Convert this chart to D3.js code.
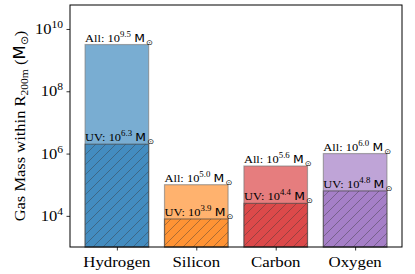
<!DOCTYPE html>
<meta charset="utf-8">
<head>
<script src="https://cdn.jsdelivr.net/npm/d3@7"></script>
<style>
  body { margin: 0; background: #fff; }
  .serif { font-family: "Liberation Serif", "Times New Roman", serif; }
  .sans { font-family: "DejaVu Sans", sans-serif; }
</style>
</head>
<body>
<script>

// data (log10 of mass)
var elements = ["Hydrogen", "Silicon", "Carbon", "Oxygen"];
var allMass = [9.5, 5.0, 5.6, 6.0];
var uvMass = [6.3, 3.9, 4.4, 4.8];
var colors = ["#1f77b4", "#ff7f0e", "#d62728", "#9467bd"];
var yTicks = [4, 6, 8, 10];

var width = 415, height = 274;
var pLeft = 70, pRight = 402, pTop = 5, pBottom = 247;
var stretch = 1.1; // text in the picture is a bit wide

var svg = d3.select("body").append("svg")
    .attr("width", width)
    .attr("height", height);

var x = d3.scaleLinear().domain([-0.59, 3.59]).range([pLeft, pRight]);
var y = d3.scaleLog().domain([1e3, Math.pow(10, 10.77)]).range([pBottom, pTop]);
var barW = 0.8;

function place(px, py) {
  return "translate(" + px + "," + py + ") scale(" + stretch + ",1)";
}

// hatch patterns
var defs = svg.append("defs");
colors.forEach(function(c, i) {
  var p = defs.append("pattern")
      .attr("id", "hatch" + i)
      .attr("patternUnits", "userSpaceOnUse")
      .attr("width", 10).attr("height", 10);
  p.append("path")
    .attr("d", "M-1,1 l2,-2 M0,10 l10,-10 M9,11 l2,-2")
    .attr("stroke", "#333")
    .attr("stroke-opacity", 0.45)
    .attr("stroke-width", 0.9);
});

var g = svg.append("g");

// all bars
g.selectAll(".all").data(elements).enter().append("rect")
  .attr("x", function(d, i) { return x(i - barW / 2); })
  .attr("width", x(barW) - x(0))
  .attr("y", function(d, i) { return y(Math.pow(10, allMass[i])); })
  .attr("height", function(d, i) { return pBottom - y(Math.pow(10, allMass[i])); })
  .attr("fill", function(d, i) { return colors[i]; })
  .attr("fill-opacity", 0.6)
  .attr("stroke", "#777")
  .attr("stroke-opacity", 0.6)
  .attr("stroke-width", 1.2);

// uv bars
g.selectAll(".uv").data(elements).enter().append("rect")
  .attr("x", function(d, i) { return x(i - barW / 2); })
  .attr("width", x(barW) - x(0))
  .attr("y", function(d, i) { return y(Math.pow(10, uvMass[i])); })
  .attr("height", function(d, i) { return pBottom - y(Math.pow(10, uvMass[i])); })
  .attr("fill", function(d, i) { return colors[i]; })
  .attr("fill-opacity", 0.6);

g.selectAll(".uvh").data(elements).enter().append("rect")
  .attr("x", function(d, i) { return x(i - barW / 2); })
  .attr("width", x(barW) - x(0))
  .attr("y", function(d, i) { return y(Math.pow(10, uvMass[i])); })
  .attr("height", function(d, i) { return pBottom - y(Math.pow(10, uvMass[i])); })
  .attr("fill", function(d, i) { return "url(#hatch" + i + ")"; })
  .attr("stroke", "#444")
  .attr("stroke-opacity", 0.6)
  .attr("stroke-width", 1.2);

// annotations
function label(prefix, v, i) {
  var t = svg.append("text")
    .attr("transform", place(x(i - barW / 2), y(Math.pow(10, v)) - 3))
    .attr("font-size", 11.3);
  t.append("tspan").attr("class", "serif").text(prefix + " 10");
  t.append("tspan").attr("class", "serif").attr("dy", -5).attr("font-size", 8).text(v.toFixed(1));
  t.append("tspan").attr("class", "sans").attr("dy", 5).attr("dx", 3).text("M");
  t.append("tspan").attr("class", "sans").attr("dy", 3).attr("dx", 1).attr("font-size", 7.5).text("\u2299");
}
elements.forEach(function(d, i) {
  label("All:", allMass[i], i);
  label("UV:", uvMass[i], i);
});

// axes
var yAxis = d3.axisLeft(y).tickValues(yTicks.map(function(e) { return Math.pow(10, e); }))
    .tickFormat("").tickSize(3.5).tickSizeOuter(0);
var ya = svg.append("g").attr("transform", "translate(" + pLeft + ",0)").call(yAxis);
ya.select(".domain").remove();
ya.selectAll(".tick line").attr("stroke", "#000").attr("stroke-width", 0.8);

yTicks.forEach(function(e) {
  var t = svg.append("text").attr("class", "serif")
    .attr("transform", place(pLeft - 7, y(Math.pow(10, e)) + 5))
    .attr("text-anchor", "end").attr("font-size", 15);
  t.append("tspan").text("10");
  t.append("tspan").attr("dy", -6).attr("font-size", 10.5).text(e);
});

var xAxis = d3.axisBottom(x).tickValues(d3.range(elements.length))
    .tickFormat("").tickSize(3.5).tickSizeOuter(0);
var xa = svg.append("g").attr("transform", "translate(0," + pBottom + ")").call(xAxis);
xa.select(".domain").remove();
xa.selectAll(".tick line").attr("stroke", "#000").attr("stroke-width", 0.8);

svg.selectAll(".xl").data(elements).enter().append("text")
  .attr("class", "serif")
  .attr("transform", function(d, i) { return place(x(i), 267); })
  .attr("text-anchor", "middle")
  .attr("font-size", 15.3)
  .text(function(d) { return d; });

svg.append("rect")
  .attr("x", pLeft).attr("y", pTop)
  .attr("width", pRight - pLeft).attr("height", pBottom - pTop)
  .attr("fill", "none").attr("stroke", "#000").attr("stroke-width", 1);

// y label
var yl = svg.append("text")
  .attr("transform", "translate(25," + ((pTop + pBottom) / 2) + ") rotate(-90) scale(" + stretch + ",1)")
  .attr("text-anchor", "middle")
  .attr("font-size", 15);
yl.append("tspan").attr("class", "serif").text("Gas Mass within R");
yl.append("tspan").attr("class", "serif").attr("dy", 3).attr("font-size", 10.5).text("200m");
yl.append("tspan").attr("class", "serif").attr("dy", -3).text(" (");
yl.append("tspan").attr("class", "sans").text("M");
yl.append("tspan").attr("class", "sans").attr("dy", 3).attr("font-size", 10).text("\u2299");
yl.append("tspan").attr("class", "serif").attr("dy", -3).text(")");

</script>
</body>
